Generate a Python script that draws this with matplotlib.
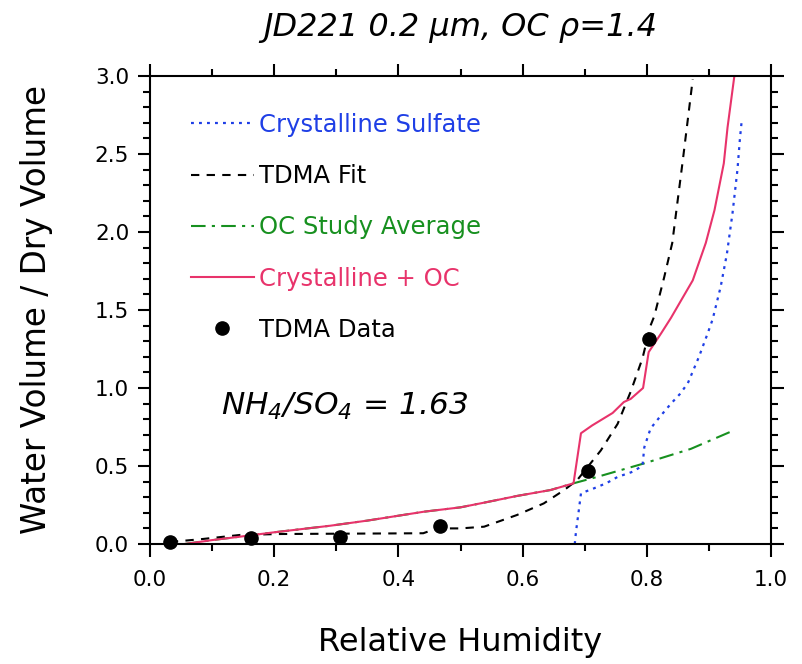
import matplotlib
matplotlib.use("Agg")
import matplotlib.pyplot as plt
from matplotlib.ticker import MultipleLocator

plt.rcParams["mathtext.fontset"] = "custom"
plt.rcParams["mathtext.rm"] = "DejaVu Sans:italic"
plt.rcParams["mathtext.it"] = "DejaVu Sans:italic"

# crystalline sulfate (blue dotted)
cs_rh = [0.684, 0.686, 0.690, 0.694, 0.715, 0.735, 0.753, 0.775, 0.793, 0.796, 0.806,
         0.822, 0.839, 0.853, 0.866, 0.884, 0.898, 0.906, 0.919, 0.929, 0.938, 0.946, 0.950, 0.953]
cs_vol = [0.0, 0.08, 0.20, 0.325, 0.357, 0.39, 0.43, 0.46, 0.50, 0.62, 0.74,
          0.82, 0.90, 0.96, 1.03, 1.20, 1.35, 1.44, 1.65, 1.86, 2.12, 2.40, 2.60, 2.72]

# TDMA fit (black dashed)
fit_rh = [0.032, 0.08, 0.145, 0.21, 0.30, 0.40, 0.44, 0.462, 0.50, 0.538, 0.591, 0.634,
          0.667, 0.688, 0.726, 0.753, 0.774, 0.793, 0.806, 0.812, 0.828, 0.841, 0.849,
          0.858, 0.866, 0.874]
fit_vol = [0.013, 0.03, 0.058, 0.064, 0.066, 0.068, 0.069, 0.10, 0.10, 0.111, 0.186, 0.26,
           0.346, 0.41, 0.60, 0.77, 0.976, 1.19, 1.40, 1.46, 1.71, 1.93, 2.18,
           2.46, 2.72, 2.98]

# OC study average (green dash-dot)
oc_rh = [0.056, 0.10, 0.145, 0.20, 0.29, 0.35, 0.441, 0.50, 0.538, 0.591, 0.645, 0.682,
         0.72, 0.796, 0.871, 0.941]
oc_vol = [0.0, 0.025, 0.047, 0.075, 0.117, 0.15, 0.207, 0.235, 0.265, 0.308, 0.346, 0.389,
          0.43, 0.517, 0.61, 0.73]

# crystalline + OC (pink solid)
cpo_rh = [0.056, 0.10, 0.145, 0.20, 0.29, 0.35, 0.441, 0.50, 0.538, 0.591, 0.645, 0.682,
          0.694, 0.712, 0.745, 0.763, 0.774, 0.794, 0.803, 0.823, 0.839, 0.855, 0.874,
          0.895, 0.909, 0.924, 0.930, 0.941]
cpo_vol = [0.0, 0.025, 0.047, 0.075, 0.117, 0.15, 0.207, 0.235, 0.265, 0.308, 0.346, 0.389,
           0.71, 0.76, 0.84, 0.91, 0.93, 1.0, 1.23, 1.35, 1.45, 1.56, 1.69,
           1.93, 2.14, 2.44, 2.67, 3.0]

# TDMA data (black dots)
data_rh = [0.032, 0.162, 0.306, 0.467, 0.705, 0.803]
data_vol = [0.013, 0.036, 0.047, 0.117, 0.47, 1.314]

blue = "#1f3fe6"
pink = "#e8336b"
green = "#17901f"

fig = plt.figure(figsize=(8.03, 6.64), dpi=100)
ax = fig.add_axes([150 / 803, 1 - 544 / 664, 621 / 803, 468 / 664])

ax.plot(oc_rh, oc_vol, color=green, lw=1.5, linestyle=(0, (7, 3, 1.5, 3)), label="OC Study Average")
ax.plot(cs_rh, cs_vol, color=blue, lw=1.6, linestyle=(0, (1.3, 2.3)), label="Crystalline Sulfate")
ax.plot(fit_rh, fit_vol, color="black", lw=1.5, linestyle=(0, (4, 3.5)), label="TDMA Fit")
ax.plot(cpo_rh, cpo_vol, color=pink, lw=1.5, label="Crystalline + OC")
ax.plot(data_rh, data_vol, "o", color="black", ms=9.5, label="TDMA Data", clip_on=False, zorder=5)

ax.set_xlim(0, 1.0)
ax.set_ylim(0, 3.0)
ax.xaxis.set_major_locator(MultipleLocator(0.2))
ax.xaxis.set_minor_locator(MultipleLocator(0.1))
ax.yaxis.set_major_locator(MultipleLocator(0.5))
ax.yaxis.set_minor_locator(MultipleLocator(0.1))
ax.xaxis.set_major_formatter(plt.FormatStrFormatter("%.1f"))
ax.yaxis.set_major_formatter(plt.FormatStrFormatter("%.1f"))
ax.tick_params(which="both", direction="out", top=True, right=True, width=1.5)
ax.tick_params(which="major", length=9, labelsize=15.5)
ax.tick_params(which="minor", length=5)
ax.tick_params(axis="x", which="major", pad=10)
ax.tick_params(axis="y", which="major", pad=6)
for s in ax.spines.values():
    s.set_linewidth(1.5)

ax.set_xlabel("Relative Humidity", fontsize=23, labelpad=26)
ax.set_ylabel("Water Volume / Dry Volume", fontsize=23.5, labelpad=30)
ax.set_title("JD221 0.2 µm, OC ρ=1.4", fontsize=23, style="italic", pad=29)

ax.text(0.115, 0.275, r"$NH_4/SO_4$ = 1.63", transform=ax.transAxes, fontsize=22.5,
        style="italic")

handles, labels = ax.get_legend_handles_labels()
order = [1, 2, 0, 3, 4]
leg = ax.legend([handles[i] for i in order], [labels[i] for i in order],
                loc="upper left", bbox_to_anchor=(0.03, 0.968), frameon=False,
                fontsize=17.5, handlelength=2.6, handletextpad=0.22, labelspacing=1.12)
for txt, h in zip(leg.get_texts(), [handles[i] for i in order]):
    txt.set_color(h.get_color())

fig.savefig("out.png", dpi=100)
